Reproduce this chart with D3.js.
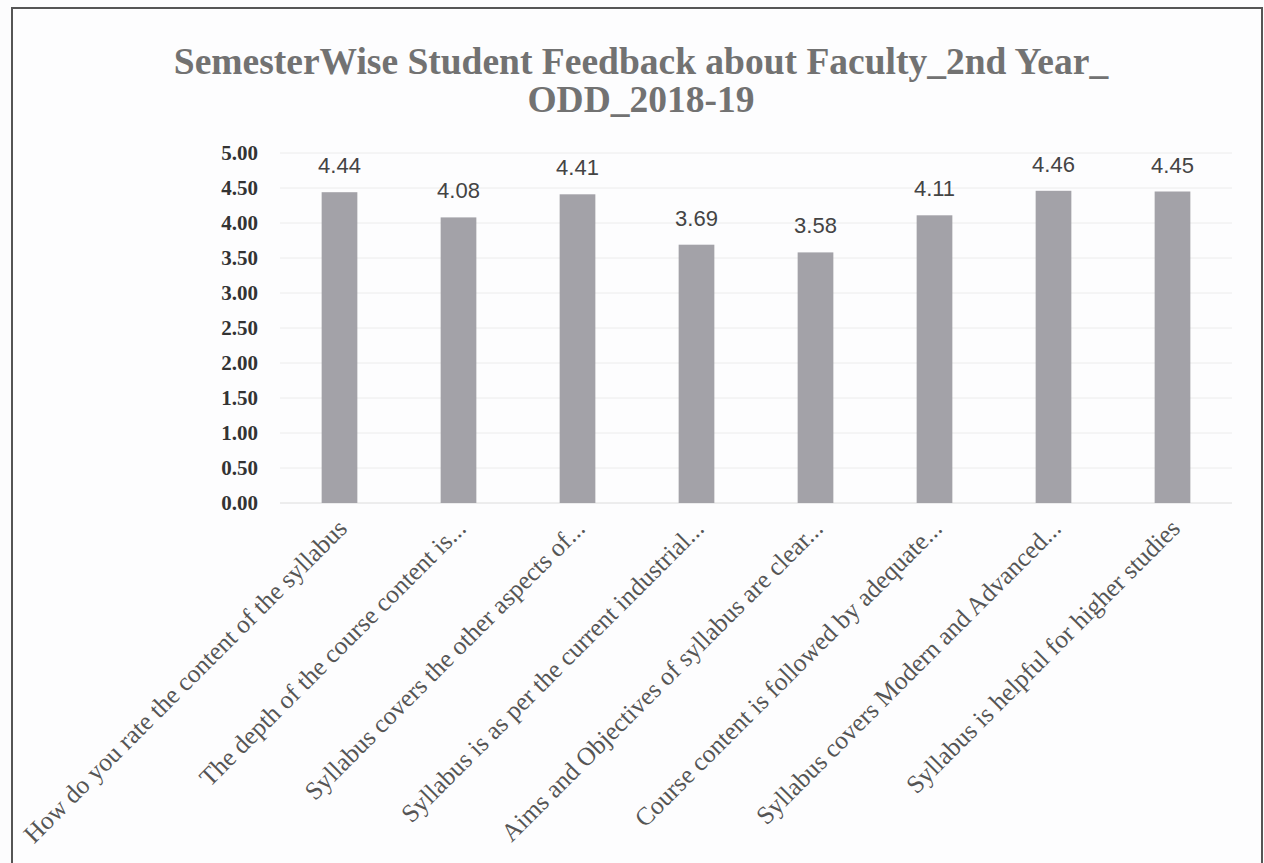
<!DOCTYPE html>
<html>
<head>
<meta charset="utf-8">
<script src="https://cdn.jsdelivr.net/npm/d3@7"></script>
<style>
  html, body { margin: 0; padding: 0; background: #fcfcfd; }
  svg { display: block; }
</style>
</head>
<body>
<svg id="chart" width="1264" height="863"></svg>
<script>
const titleLines = ["SemesterWise Student Feedback about Faculty_2nd Year_", "ODD_2018-19"];
const categories = [
  "How do you rate the content of the syllabus",
  "The depth of the course content is...",
  "Syllabus covers the other aspects of...",
  "Syllabus is as per the current industrial...",
  "Aims and Objectives of syllabus are clear...",
  "Course content is followed by adequate...",
  "Syllabus covers Modern and Advanced...",
  "Syllabus is helpful for higher studies"
];
const values = [4.44, 4.08, 4.41, 3.69, 3.58, 4.11, 4.46, 4.45];
const yTicks = [0, 0.5, 1, 1.5, 2, 2.5, 3, 3.5, 4, 4.5, 5];

const svg = d3.select("#chart");

// outer frame (scanned page border)
svg.append("rect")
  .attr("x", 12).attr("y", 8).attr("width", 1250).attr("height", 880)
  .attr("fill", "#fdfdfe").attr("stroke", "#555").attr("stroke-width", 2);

const x = d3.scaleBand().domain(categories).range([280, 1232]).paddingInner(0.7).paddingOuter(0.35);
const y = d3.scaleLinear().domain([0, 5]).range([503, 153]);

// gridlines
svg.append("g")
  .selectAll("line").data(yTicks.slice(1)).join("line")
  .attr("x1", 280).attr("x2", 1232)
  .attr("y1", d => y(d)).attr("y2", d => y(d))
  .attr("stroke", "#ececec").attr("stroke-width", 1);

// y axis labels
const yAxis = d3.axisLeft(y).tickValues(yTicks).tickFormat(d3.format(".2f")).tickSize(0).tickPadding(0);
const gy = svg.append("g").attr("transform", "translate(258,0)").call(yAxis);
gy.select(".domain").remove();
gy.selectAll("text")
  .attr("font-family", "'Liberation Serif', 'Times New Roman', serif")
  .attr("font-weight", "bold")
  .attr("font-size", 21)
  .attr("fill", "#333");

// baseline
svg.append("line").attr("x1", 280).attr("x2", 1232).attr("y1", y(0)).attr("y2", y(0))
  .attr("stroke", "#dcdcdc").attr("stroke-width", 1);

// bars
svg.append("g").selectAll("rect").data(values).join("rect")
  .attr("x", (d, i) => x(categories[i]))
  .attr("width", x.bandwidth())
  .attr("y", d => y(d))
  .attr("height", d => y(0) - y(d))
  .attr("fill", "#a3a2a8");

// data labels
svg.append("g").selectAll("text").data(values).join("text")
  .attr("x", (d, i) => x(categories[i]) + x.bandwidth() / 2)
  .attr("y", d => y(d) - 19)
  .attr("text-anchor", "middle")
  .attr("font-family", "'Liberation Sans', Arial, sans-serif")
  .attr("font-size", 22)
  .attr("fill", "#444")
  .text(d => d3.format(".2f")(d));

// x axis category labels
const xAxis = d3.axisBottom(x).tickSize(0).tickPadding(0);
const gx = svg.append("g").attr("transform", `translate(0,${y(0)})`).call(xAxis);
gx.select(".domain").remove();
gx.selectAll("text")
  .attr("font-family", "'Liberation Serif', 'Times New Roman', serif")
  .attr("font-size", 25.5)
  .attr("fill", "#555")
  .attr("text-anchor", "end")
  .attr("dy", null)
  .attr("transform", "translate(9,27) rotate(-45)");

// title
const title = svg.append("g").attr("font-family", "'Liberation Serif', 'Times New Roman', serif")
  .attr("font-weight", "bold").attr("font-size", 37.5).attr("fill", "#727272").attr("text-anchor", "middle");
title.selectAll("text").data(titleLines).join("text")
  .attr("x", 641).attr("y", (d, i) => 74 + i * 38)
  .text(d => d);
</script>
</body>
</html>
